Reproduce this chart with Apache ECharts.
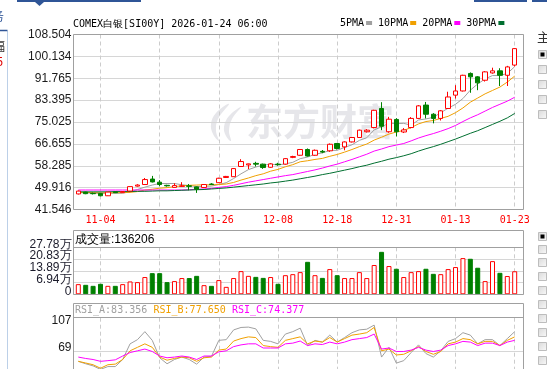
<!DOCTYPE html>
<html><head><meta charset="utf-8">
<script src="https://cdn.jsdelivr.net/npm/echarts@6/dist/echarts.min.js"></script>
<style>html,body{margin:0;padding:0;background:#fff;overflow:hidden}#c{width:547px;height:369px}</style>
</head><body><div id="c"></div>
<script>
// ---------- data ----------
const dates = ['10-30','10-31','11-03','11-04','11-05','11-06','11-07','11-10','11-11','11-12',
'11-13','11-14','11-17','11-18','11-19','11-20','11-21','11-24','11-25','11-26',
'11-27','11-28','12-01','12-02','12-03','12-04','12-05','12-08','12-09','12-10',
'12-11','12-12','12-15','12-16','12-17','12-18','12-19','12-22','12-23','12-24',
'12-26','12-29','12-30','12-31','01-02','01-05','01-06','01-07','01-08','01-09',
'01-12','01-13','01-14','01-15','01-16','01-19','01-20','01-21','01-22','01-23'];
const opens = [47.5,48.2,47.7,47.7,46.8,48.3,48.0,48.6,50.5,51.1,
53.2,52.0,50.8,50.0,50.4,50.6,50.2,49.97,51.3,51.8,
53.8,54.1,58.0,58.6,59.2,58.9,57.7,58.9,58.9,61.5,
62.3,64.5,62.3,63.8,64.0,66.8,65.5,67.4,69.1,71.3,
72.9,80.2,71.3,76.0,71.2,72.9,76.4,81.5,78.0,76.4,
80.2,85.3,86.9,93.6,92.3,91.0,93.8,94.6,92.9,96.8];
const closes = [48.6,47.6,47.6,46.8,48.2,48.0,48.4,50.3,50.9,53.0,
52.1,51.1,50.6,50.7,50.6,50.4,49.3,51.1,51.1,53.5,
54.2,57.2,59.9,59.0,58.9,57.6,59.0,58.7,61.0,61.8,
64.5,62.0,64.2,63.5,66.5,64.9,67.4,69.1,71.9,71.9,
79.5,73.4,76.1,71.3,72.0,76.4,81.2,78.0,76.4,79.3,
84.6,86.9,92.9,92.3,90.0,94.2,94.6,92.9,96.1,103.1];
const lows = [47.3,47.4,47.3,46.6,46.7,47.8,47.9,48.5,50.3,51.0,
51.9,50.4,50.3,49.9,50.2,48.9,47.9,49.8,50.9,51.7,
53.6,54.0,57.8,57.0,58.0,57.1,57.5,58.3,58.7,61.2,
62.1,61.8,62.1,63.1,63.6,64.5,64.2,67.2,69.0,71.0,
72.6,71.9,70.9,69.5,70.8,72.6,76.2,76.4,74.5,75.6,
80.0,84.0,86.7,86.2,87.2,90.5,93.5,88.8,88.8,96.3];
const highs = [48.8,48.4,48.0,47.9,48.3,48.5,48.6,50.4,51.2,53.6,
54.4,52.8,51.0,51.6,52.0,51.3,50.4,51.3,51.6,53.7,
54.4,57.4,60.8,59.1,59.8,59.1,59.3,59.4,61.2,62.1,
64.7,64.9,64.5,64.3,66.8,67.0,67.6,69.3,72.1,72.3,
79.7,82.6,77.0,76.5,72.7,76.9,81.5,82.7,78.4,79.6,
86.6,89.1,93.1,94.0,92.6,94.5,95.8,95.6,96.5,103.3];
const volumes = [60000,56000,50000,62000,50000,50000,60000,76000,72000,102000,
125000,125000,72000,78000,96000,96000,109000,54000,50000,84000,
44000,96000,137000,109000,103000,97000,102000,62000,113000,119000,
131000,192000,113000,97000,149000,113000,96000,96000,131000,96000,
173000,251000,167000,151000,102000,131000,137000,151000,121000,119000,
149000,161000,214000,210000,157000,78000,196000,127000,108000,136206];
const ma5 = [48.0,47.9,47.8,47.7,47.8,47.7,47.8,48.3,49.2,50.1,
50.9,51.5,51.5,51.5,51.0,50.7,50.3,50.4,50.5,51.1,
51.8,53.4,55.2,56.8,57.8,58.5,58.9,58.6,59.0,59.6,
61.0,61.6,62.7,63.2,64.1,64.2,65.3,66.3,68.0,69.0,
72.0,73.2,74.6,74.4,74.5,73.8,75.8,76.2,76.8,78.6,
80.3,81.8,84.0,87.2,89.6,91.5,92.8,92.8,93.6,96.2];
const ma10 = [48.1,48.1,48.0,47.9,47.9,48.0,48.0,48.1,48.4,49.0,
49.3,49.7,49.9,50.3,50.6,50.8,50.9,51.0,51.0,51.1,
51.3,51.9,52.8,53.6,54.5,55.2,56.2,56.9,57.9,58.7,
59.8,60.2,60.7,61.1,61.9,62.6,63.5,64.5,65.6,66.6,
68.1,69.2,70.4,71.2,71.8,72.9,74.3,75.2,75.6,76.4,
77.2,78.6,80.4,82.6,84.2,85.8,87.1,88.4,90.3,92.6];
const ma20 = [49.0,49.0,49.0,49.0,49.0,49.0,49.0,49.0,49.0,49.0,
49.0,49.0,49.0,49.0,49.0,49.1,49.3,49.4,49.6,50.0,
50.3,50.8,51.4,52.0,52.5,53.0,53.5,54.0,54.5,54.9,
55.5,56.1,56.7,57.4,58.2,58.9,59.8,60.7,61.7,62.7,
63.9,64.7,65.6,66.2,66.8,67.8,68.9,69.8,70.6,71.5,
72.5,73.7,75.2,76.6,77.8,79.2,80.6,81.8,83.0,84.5];
const ma30 = [48.3,48.3,48.3,48.3,48.3,48.4,48.4,48.4,48.5,48.5,
48.6,48.7,48.7,48.8,48.9,49.0,49.1,49.2,49.4,49.6,
49.8,50.1,50.4,50.7,51.0,51.3,51.7,52.0,52.4,52.8,
53.3,53.8,54.3,54.9,55.4,56.0,56.6,57.2,57.9,58.5,
59.3,60.0,60.8,61.4,62.1,62.9,63.9,64.8,65.6,66.5,
67.5,68.5,69.6,70.7,71.7,72.9,74.1,75.3,76.6,78.3];
const rsiA = [56.9,54.1,51.7,47.7,50.9,50.9,59.0,77.0,81.8,91.0,
81.0,61.0,54.1,59.0,61.8,59.0,53.7,61.8,62.6,81.0,
81.8,93.0,95.8,96.2,94.2,81.0,79.8,77.0,88.2,91.0,
95.0,75.0,81.0,79.0,87.0,79.0,84.2,89.8,93.0,93.8,
98.5,61.8,73.0,54.9,57.7,67.0,75.8,65.8,61.8,69.0,
79.8,83.0,89.8,87.0,77.0,81.8,81.8,75.0,83.0,91.0];
const rsiB = [56.9,55.0,53.0,49.0,53.0,53.7,59.0,69.0,73.0,77.0,
73.0,61.8,58.2,60.2,61.8,61.0,56.9,61.0,61.8,69.8,
71.0,80.2,83.0,85.0,84.2,75.0,73.8,73.0,81.0,83.0,
85.0,77.0,80.2,79.0,84.2,79.0,83.0,87.0,88.2,89.8,
95.8,69.0,71.0,64.2,65.0,69.0,73.8,68.2,65.0,68.2,
77.0,79.0,83.0,81.8,77.0,79.8,79.8,75.0,81.0,85.0];
const rsiC = [61.8,60.2,59.0,56.9,57.7,58.6,63.0,67.0,69.0,71.0,
68.2,63.0,61.0,61.8,63.0,61.8,59.0,63.0,63.0,67.8,
69.0,73.8,75.8,77.0,77.0,72.2,72.2,72.2,77.0,77.8,
80.2,75.0,77.0,76.2,79.0,77.0,79.0,81.8,83.0,84.2,
88.2,71.0,72.2,68.2,68.2,69.8,73.0,69.8,68.2,69.8,
75.0,77.0,79.8,79.0,75.0,77.8,77.8,75.0,79.0,81.0];
const rsiTitles = ['RSI_A:83.356', 'RSI_B:77.650', 'RSI_C:74.377'];
const priceTicks = ['41.546','49.916','58.285','66.655','75.025','83.395','91.765','100.134','108.504'];
const volTicks = ['0','6.94万','13.89万','20.83万','27.78万'];
const rsiTicks = ['', '', '69', '107'];
const priceMin = 41.546, priceMax = 108.504;
const volMax = 277800;
const rsiMin = -7, rsiMax = 107;
const maNames = ['5PMA','10PMA','20PMA','30PMA'];
const titleText = 'COMEX白银[SI00Y] 2026-01-24 06:00';

// ---------- styles ----------
const RED = '#ff0000', GREEN = '#008000';
const maColors = ['#a0a0a0','#f0a000','#ff00ff','#006f30'];
const rsiColors = ['#a0a0a0','#f0a000','#ff00ff'];
const MONO = '"DejaVu Sans Mono", monospace';
const SANS = '"Liberation Sans", Arial, sans-serif';
const FRAME = '#a0a0a0', GRIDC = '#d6d6d6', DASHC = '#cccccc';
const labelEvery = (i) => i % 8 === 3;

const dataL = 74.6, dataW = 443.8;      // candle area
const frameL = 73.5, frameW = 450;      // framed panel
const P = {top: 34.5, h: 175};
const V = {top: 247.3, h: 47};
const R = {top: 317.7, h: 99.3};

const chart = echarts.init(document.getElementById('c'));

const catAxis = (gi, showLabel) => ({
  gridIndex: gi, type: 'category', data: dates, boundaryGap: true,
  axisLine: {show: false}, axisTick: {show: false},
  axisLabel: {show: showLabel, interval: labelEvery, color: RED, fontFamily: MONO, fontSize: 10, margin: 6},
  splitLine: {show: true, interval: labelEvery, alignWithLabel: true, lineStyle: {color: DASHC, type: [4, 3], width: 1}}
});
const dummyX = (gi) => ({gridIndex: gi, type: 'value', min: 0, max: 1, show: false});
const mkGrid = (l, w, t, h) => ({left: l, width: w, top: t, height: h, containLabel: false, outerBoundsMode: 'none'});
const volLabel = (fmt) => ({margin: 2, showMinLabel: true, showMaxLabel: true, hideOverlap: false,
  verticalAlign: 'bottom', lineHeight: 6, color: '#1a1a2a', fontFamily: SANS, fontSize: 12, formatter: fmt});

const upDown = closes.map((c, i) => c >= opens[i]);

const option = {
  animation: false,
  grid: [
    mkGrid(dataL, dataW, P.top, P.h), mkGrid(frameL, frameW, P.top, P.h),
    mkGrid(dataL, dataW, V.top, V.h), mkGrid(frameL, frameW, V.top, V.h),
    mkGrid(dataL, dataW, R.top, R.h), mkGrid(frameL, frameW, R.top, R.h),
    mkGrid(frameL, frameW, V.top + V.h / 4, V.h / 2)
  ],
  xAxis: [catAxis(0, true), dummyX(1), catAxis(2, false), dummyX(3), catAxis(4, false), dummyX(5), dummyX(6)],
  yAxis: [
    {gridIndex: 0, type: 'value', position: 'right', min: priceMin, max: priceMax, show: false},
    {gridIndex: 1, type: 'value', position: 'left', min: 0, max: priceTicks.length - 1, interval: 1,
     axisLine: {show: false}, axisTick: {show: false},
     axisLabel: {margin: 2, showMinLabel: true, showMaxLabel: true, hideOverlap: false, color: '#1a1a1a', fontFamily: SANS, fontSize: 12,
       formatter: v => priceTicks[Math.round(v)]},
     splitLine: {show: true, lineStyle: {color: GRIDC, width: 1}}},
    {gridIndex: 2, type: 'value', position: 'right', min: 0, max: volMax, show: false},
    // volume labels on even ticks (0, 13.89万, 27.78万)
    {gridIndex: 3, type: 'value', position: 'left', min: 0, max: volMax, interval: volMax / 2,
     axisLine: {show: false}, axisTick: {show: false},
     axisLabel: volLabel(v => volTicks[Math.round(v / (volMax / 4))]),
     splitLine: {show: true, lineStyle: {color: GRIDC, width: 1}}},
    {gridIndex: 4, type: 'value', position: 'right', min: rsiMin, max: rsiMax, show: false},
    {gridIndex: 5, type: 'value', position: 'left', min: 0, max: rsiTicks.length - 1, interval: 1,
     axisLine: {show: false}, axisTick: {show: false},
     axisLabel: {margin: 2, showMinLabel: true, showMaxLabel: true, hideOverlap: false, formatter: v => {
        const k = Math.round(v); const t = rsiTicks[k];
        if (!t) return '';
        return (k === rsiTicks.length - 1 ? '{t|' : '{b|') + t + '}';
      },
       rich: {t: {color: '#1a1a1a', fontFamily: SANS, fontSize: 12, padding: [6, 0, 0, 0]},
              b: {color: '#1a1a1a', fontFamily: SANS, fontSize: 12, padding: [0, 0, 6, 0]}}},
     splitLine: {show: true, lineStyle: {color: GRIDC, width: 1}}},
    // volume labels on odd ticks (6.94万, 20.83万)
    {gridIndex: 6, type: 'value', position: 'left', min: 0, max: 1, interval: 1,
     axisLine: {show: false}, axisTick: {show: false},
     axisLabel: volLabel(v => volTicks[Math.round(v) * 2 + 1]),
     splitLine: {show: true, lineStyle: {color: GRIDC, width: 1}}}
  ],
  legend: {
    data: maNames, left: 340, top: 18, icon: 'rect', itemWidth: 6, itemHeight: 4, itemGap: 6,
    align: 'right', selectedMode: false, padding: 0,
    textStyle: {fontFamily: MONO, fontSize: 10, color: '#000', padding: [0, -3, 0, 0]}
  },
  series: [
    {type: 'candlestick', name: 'K', xAxisIndex: 0, yAxisIndex: 0, z: 3, barWidth: 5,
     data: dates.map((d, i) => [opens[i], closes[i], lows[i], highs[i]]),
     itemStyle: {color: '#ffffff', color0: GREEN, borderColor: RED, borderColor0: GREEN, borderWidth: 1}},
    ...[ma5, ma10, ma20, ma30].map((arr, k) => ({
      type: 'line', name: maNames[k], xAxisIndex: 0, yAxisIndex: 0, data: arr, z: 2,
      symbol: 'none', showSymbol: false, lineStyle: {width: 1, color: maColors[k]}, itemStyle: {color: maColors[k]}
    })),
    {type: 'bar', name: 'VOL', xAxisIndex: 2, yAxisIndex: 2, barWidth: 5,
     data: volumes.map((v, i) => ({value: v, itemStyle: upDown[i]
        ? {color: '#ffffff', borderColor: RED, borderWidth: 1}
        : {color: GREEN, borderColor: GREEN, borderWidth: 1}}))},
    ...[rsiA, rsiB, rsiC].map((arr, k) => ({
      type: 'line', name: 'RSI' + k, xAxisIndex: 4, yAxisIndex: 4, data: arr,
      symbol: 'none', showSymbol: false, lineStyle: {width: 1, color: rsiColors[k]}, itemStyle: {color: rsiColors[k]}
    }))
  ],
  graphic: {elements: buildGraphics()}
};

function buildGraphics() {
  const g = [];
  const fr = (x, y, w, h) => g.push({type: 'rect', z: 50, silent: true, shape: {x, y, width: w, height: h},
    style: {fill: 'transparent', stroke: FRAME, lineWidth: 1}});
  const ln = (x1, y1, x2, y2, c, w) => g.push({type: 'line', z: 50, silent: true, shape: {x1, y1, x2, y2},
    style: {stroke: c, lineWidth: w || 1}});
  const tx = (x, y, text, family, size, fill, align) => g.push({type: 'text', z: 60, silent: true, x, y,
    style: {text, fontFamily: family, fontSize: size, fill, align: align || 'left', verticalAlign: 'middle'}});
  // watermark (logo + name)
  const WM = '#e6e6ea';
  g.push({type: 'polygon', z: 0, silent: true, shape: {smooth: 0.4, points:
    [[229, 104], [216, 113], [211, 124], [213, 134], [219, 141], [216, 131], [218, 119]]}, style: {fill: WM}});
  g.push({type: 'polygon', z: 0, silent: true, shape: {smooth: 0.4, points:
    [[241, 107], [229, 116], [224, 127], [226, 136], [231, 141], [229, 131], [232, 119]]}, style: {fill: WM}});
  g.push({type: 'text', z: 0, silent: true, x: 246, y: 122,
    style: {text: '东方财富', fontFamily: 'Noto Sans CJK SC', fontSize: 37, fontWeight: 'bold', fill: WM, verticalAlign: 'middle'}});
  // frames
  fr(73.5, 34.5, 450, 175);
  fr(73.5, 230.5, 450, 64);
  ln(73.5, 247.5, 523.5, 247.5, FRAME);
  fr(73.5, 303.5, 450, 120);
  ln(73.5, 317.5, 523.5, 317.5, FRAME);
  // titles
  tx(73, 24, titleText, MONO, 10, '#000');
  tx(75, 239.5, '成交量:' + volumes[volumes.length - 1], SANS, 12, '#000');
  [75, 153.5, 232].forEach((x, k) => tx(x, 310.5, rsiTitles[k], MONO, 10, rsiColors[k]));
  // chrome: top bars
  g.push({type: 'rect', silent: true, shape: {x: 17, y: 0, width: 124, height: 2}, style: {fill: '#2f5597'}});
  g.push({type: 'polygon', silent: true, shape: {points: [[35, 2], [44, 2], [39.5, 6]]}, style: {fill: '#2f5597'}});
  g.push({type: 'rect', silent: true, shape: {x: 474, y: 0, width: 53, height: 2}, style: {fill: '#2f5597'}});
  g.push({type: 'rect', silent: true, shape: {x: 532, y: 0, width: 15, height: 2}, style: {fill: '#2f5597'}});
  // left strip
  ln(7.5, 31, 7.5, 369, '#bcd0e8');
  ln(0, 30.5, 7.5, 30.5, '#2f5597', 1.5);
  tx(4, 16, '务', 'Noto Sans CJK SC', 12, '#2f5597', 'right');
  tx(5, 46, '幅', 'Noto Sans CJK SC', 12, '#333', 'right');
  tx(3, 63, '5', SANS, 12, '#e00000', 'right');
  // right strip
  tx(537, 37, '主', 'Noto Sans CJK SC', 13, '#333');
  const boxes = [50, 65, 80, 95, 110, 232, 245, 258, 272, 286, 300, 314, 328, 342, 356];
  boxes.forEach(y => g.push({type: 'rect', silent: true, shape: {x: 538.5, y: y + 0.5, width: 8, height: 8},
    style: {stroke: '#bdbdbd', lineWidth: 1,
      fill: new echarts.graphic.LinearGradient(0, 0, 1, 1, [{offset: 0, color: '#d8d8d8'}, {offset: 1, color: '#fafafa'}])}}));
  [50, 232].forEach(y => g.push({type: 'rect', silent: true, shape: {x: 540.5, y: y + 2.5, width: 4, height: 4}, style: {fill: '#000'}}));
  return g;
}

chart.setOption(option);
</script>
</body></html>
